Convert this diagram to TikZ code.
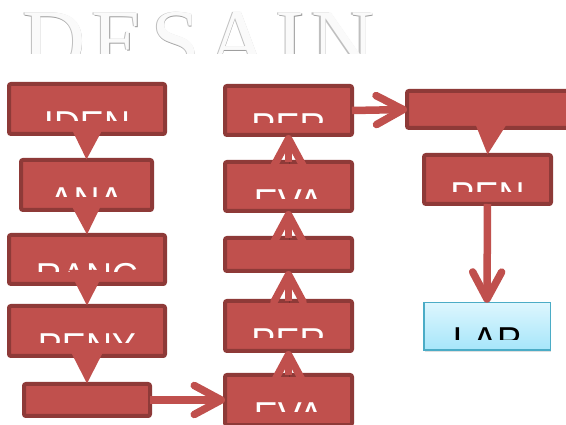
\documentclass[tikz,border=0pt]{standalone}
\usepackage{fontspec}
\newfontfamily\boxfont{Liberation Sans}
\newfontfamily\titlefont{Liberation Serif}
\usetikzlibrary{arrows.meta,shadows}
\definecolor{boxred}{HTML}{C0504D}
\definecolor{boxdark}{HTML}{8E3A38}
\definecolor{lapline}{HTML}{4BACC6}
\definecolor{laptop}{HTML}{DDF6FE}
\definecolor{lapbot}{HTML}{A6E6FA}
\newcommand{\ttlstr}{D\kern6pt E\kern6pt S\kern6pt A\kern6pt I\kern6pt N}
\newcommand{\bxtxt}[3]{%
  \begin{scope}
    \clip ([xshift=-10pt,yshift=-37pt]#1.north west) rectangle ([xshift=10pt,yshift=2pt]#1.north east);
    \node[boxtext] (#2) at ([yshift=-28pt]#1.north) {#3};
  \end{scope}}
\tikzset{
  redbox/.style={draw=boxdark, fill=boxred, line width=4pt, rounded corners=2pt,
    inner sep=0pt, outer sep=0pt,
    drop shadow={opacity=0.22, shadow xshift=1pt, shadow yshift=-2pt}},
  boxtext/.style={anchor=north, inner sep=0pt, text=white,
    font=\boxfont\fontsize{36}{40}\selectfont},
  arrshadow/.style={preaction={draw=black, opacity=0.15,
    transform canvas={shift={(1pt,-2pt)}}}},
  openarr/.style={draw=boxred, line width=7.5pt, arrshadow,
    -{Straight Barb[length=27pt,width=29pt,round]}},
  fillarr/.style={draw=boxred, fill=boxred, line width=7.5pt, arrshadow,
    -{Triangle[length=36pt,width=34pt]}},
  titlestyle/.style={anchor=north west, inner sep=0pt,
    font=\titlefont\fontsize{88}{90}\selectfont},
}
\begin{document}
\begin{tikzpicture}[x=1pt,y=-1pt]
\clip (0,0) rectangle (566,425);
\fill[white] (0,0) rectangle (566,425);

% title
\begin{scope}
  \clip (0,0) rectangle (566,54);
  \node[titlestyle, text=gray!80] (tsh) at (22.3,13.3) {\ttlstr};
  \node[titlestyle, text=gray!50] (thl) at (20.8,11.8) {\ttlstr};
  \node[titlestyle, text=white!96!gray] (ttl) at (22,12) {\ttlstr};
\end{scope}

% column 1
\node[redbox, minimum width=156pt, minimum height=50pt] (iden) at (87,109) {};
\node[redbox, minimum width=131pt, minimum height=50pt] (ana) at (86.5,185) {};
\node[redbox, minimum width=156pt, minimum height=49pt] (ranc) at (87,259.5) {};
\node[redbox, minimum width=156pt, minimum height=50pt] (peny) at (87,331) {};
\node[redbox, minimum width=126pt, minimum height=32pt] (e1) at (87,400) {};

% column 2
\node[redbox, minimum width=127pt, minimum height=49pt] (per1) at (288.5,110.5) {};
\node[redbox, minimum width=127pt, minimum height=49pt] (eva1) at (288.5,186.5) {};
\node[redbox, minimum width=127pt, minimum height=33pt] (e2) at (288.5,254.5) {};
\node[redbox, minimum width=127pt, minimum height=50pt] (per2) at (288.5,326) {};
\node[redbox, minimum width=127pt, minimum height=50pt] (eva2) at (288.5,400) {};

% column 3
\node[redbox, minimum width=166pt, minimum height=37pt] (wide) at (490,109.5) {};
\node[redbox, minimum width=127pt, minimum height=49pt] (pen) at (487.5,179.5) {};
\node[draw=lapline, line width=1.5pt, top color=laptop, bottom color=lapbot,
  inner sep=0pt, outer sep=0pt, minimum width=126.5pt, minimum height=47.5pt,
  drop shadow={opacity=0.25, shadow xshift=1pt, shadow yshift=-2pt}] (lap) at (487,326.5) {};

% texts (clipped as in the picture)
\bxtxt{iden}{tiden}{IDEN}
\bxtxt{ana}{tana}{ANA}
\bxtxt{ranc}{tranc}{RANC}
\bxtxt{peny}{tpeny}{PENY}
\bxtxt{per1}{tper1}{PER}
\bxtxt{eva1}{teva1}{EVA}
\bxtxt{per2}{tper2}{PER}
\bxtxt{eva2}{teva2}{EVA}
\bxtxt{pen}{tpen}{PEN}
\begin{scope}
  \clip ([yshift=-37pt]lap.north west) rectangle ([yshift=2pt]lap.north east);
  \node[boxtext, text=black] (tlap) at ([yshift=-25pt]lap.north) {LAP};
\end{scope}

% arrows
\draw[fillarr] (iden.south) -- (ana.north);
\draw[fillarr] (ana.south) -- (ranc.north);
\draw[fillarr] (ranc.south) -- (peny.north);
\draw[fillarr] (peny.south) -- (e1.north);
\draw[openarr] (e1.east) -- (eva2.west);
\draw[openarr] (eva2.north) -- (per2.south);
\draw[openarr] (per2.north) -- (e2.south);
\draw[openarr] (e2.north) -- (eva1.south);
\draw[openarr] (eva1.north) -- (per1.south);
\draw[openarr] (per1.east) -- (wide.west);
\draw[fillarr] (wide.south) -- (pen.north);
\draw[openarr] (pen.south) -- (lap.north);
\end{tikzpicture}
\end{document}
